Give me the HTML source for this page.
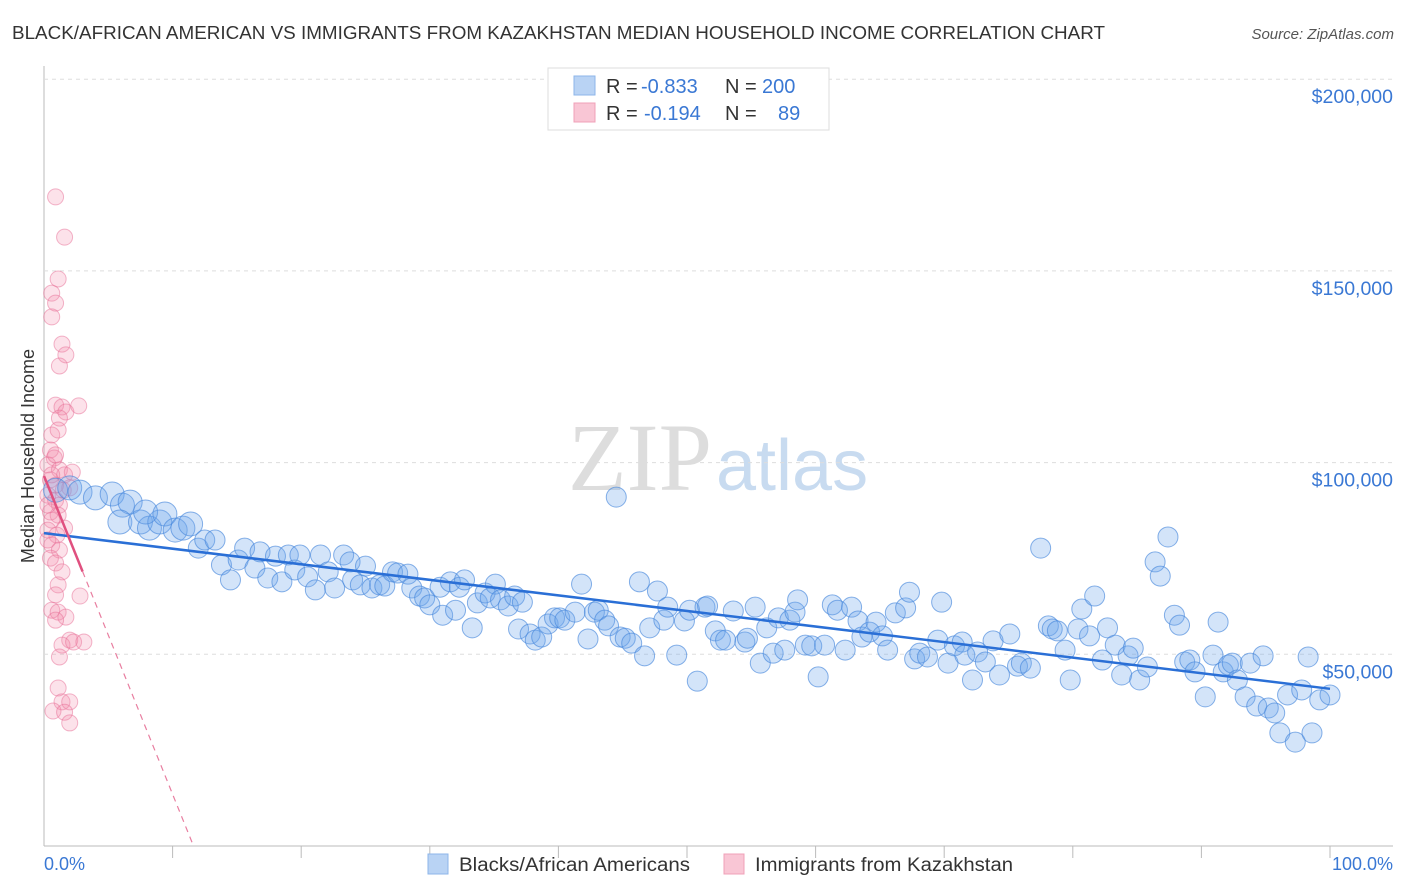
<!DOCTYPE html>
<html><head><meta charset="utf-8"><style>
body{margin:0;background:#fff;font-family:"Liberation Sans",sans-serif;}
svg{display:block}
</style></head><body>
<svg id="chart" width="1406" height="892" xmlns="http://www.w3.org/2000/svg">
<text x="12" y="39" font-size="18" fill="#333" textLength="1093" lengthAdjust="spacingAndGlyphs">BLACK/AFRICAN AMERICAN VS IMMIGRANTS FROM KAZAKHSTAN MEDIAN HOUSEHOLD INCOME CORRELATION CHART</text>
<text x="1394" y="39" font-size="15" fill="#555" font-style="italic" text-anchor="end">Source: ZipAtlas.com</text>
<text x="712" y="490" font-size="96" fill="#ddd" text-anchor="end" font-family="Liberation Serif,serif">ZIP</text>
<text x="716" y="490" font-size="72" fill="#c8dbf0">atlas</text>
<g id="grid"></g>
<g id="marks"></g>
<text x="34" y="456" font-size="18" fill="#333" text-anchor="middle" transform="rotate(-90 34 456)">Median Household Income</text>
<text x="44" y="870" font-size="18" fill="#3a78d4">0.0%</text>
<text x="1393" y="870" font-size="18" fill="#3a78d4" text-anchor="end">100.0%</text>
<g>
<rect x="548" y="68" width="281" height="62" fill="#fff" stroke="#ddd"/>
<rect x="574" y="76" width="21" height="19" fill="#b9d3f4" stroke="#8db6ea"/>
<rect x="574" y="103" width="21" height="19" fill="#f9c6d5" stroke="#f0a0b8"/>
<text x="606" y="93" font-size="20" fill="#333">R =</text>
<text x="641" y="93" font-size="20" fill="#3a78d4">-0.833</text>
<text x="725" y="93" font-size="20" fill="#333">N =</text>
<text x="762" y="93" font-size="20" fill="#3a78d4">200</text>
<text x="606" y="120" font-size="20" fill="#333">R =</text>
<text x="644" y="120" font-size="20" fill="#3a78d4">-0.194</text>
<text x="725" y="120" font-size="20" fill="#333">N =</text>
<text x="778" y="120" font-size="20" fill="#3a78d4">89</text>
</g>
<g>
<rect x="428" y="854" width="20" height="20" fill="#b9d3f4" stroke="#8db6ea"/>
<text x="459" y="871" font-size="19" fill="#333" textLength="231" lengthAdjust="spacingAndGlyphs">Blacks/African Americans</text>
<rect x="724" y="854" width="20" height="20" fill="#f9c6d5" stroke="#f0a0b8"/>
<text x="755" y="871" font-size="19" fill="#333" textLength="258" lengthAdjust="spacingAndGlyphs">Immigrants from Kazakhstan</text>
</g>
</svg>
<script>
const yTicks=[50000,100000,150000,200000];
const yTickLabels=["$50,000","$100,000","$150,000","$200,000"];
const blueX=[0.9,2.0,2.8,4.0,5.3,6.1,6.7,5.9,7.5,8.2,9.0,7.9,9.4,10.2,10.8,11.4,12.0,12.5,13.3,13.8,14.5,15.1,15.6,16.4,16.8,17.4,18.0,18.5,19.0,19.5,19.9,20.5,21.1,21.5,22.1,22.6,23.3,23.8,24.0,24.6,25.0,25.5,26.1,26.5,27.1,27.5,28.3,28.6,29.2,29.6,30.0,30.8,31.0,31.6,32.0,32.3,32.7,33.3,33.7,34.3,34.7,35.1,35.5,36.1,36.6,36.9,37.2,37.8,38.2,38.7,39.2,39.7,40.1,40.5,41.3,41.8,42.3,42.8,43.1,43.6,43.9,44.5,44.8,45.2,45.7,46.3,46.7,47.1,47.7,48.2,48.5,49.2,49.8,50.2,50.8,51.4,51.6,52.2,52.6,53.0,53.6,54.5,54.7,55.3,55.7,56.2,56.7,57.1,57.6,58.0,58.4,58.6,59.2,59.7,60.2,60.7,61.3,61.7,62.3,62.8,63.3,63.6,64.2,64.7,65.2,65.6,66.2,67.0,67.3,67.7,68.1,68.7,69.5,69.8,70.3,70.8,71.4,71.6,72.2,72.6,73.2,73.8,74.3,75.1,75.7,76.0,76.7,77.5,78.1,78.4,78.8,79.4,79.8,80.4,80.7,81.3,81.7,82.3,82.7,83.3,83.8,84.3,84.7,85.2,85.8,86.4,86.8,87.4,87.9,88.3,88.7,89.1,89.5,90.3,90.9,91.3,91.7,92.1,92.4,92.8,93.4,93.8,94.3,94.8,95.2,95.7,96.1,96.7,97.3,97.8,98.3,98.6,99.2,100.0];
const blueY=[92.8,93.4,92.3,90.8,91.8,88.9,89.7,84.5,84.5,82.9,84.5,87.1,86.6,82.4,82.9,84.0,77.7,79.8,79.8,73.3,69.4,74.6,77.7,72.5,76.7,69.9,75.6,68.9,75.9,72.0,75.9,70.2,66.8,75.9,71.5,67.3,75.9,74.1,69.4,68.1,73.0,67.3,68.1,67.8,71.5,71.2,70.9,67.3,65.2,64.7,62.9,67.5,60.2,68.9,61.5,67.5,69.4,56.9,63.4,66.0,64.7,68.3,64.2,62.6,65.2,56.6,63.6,55.3,53.7,54.5,57.9,59.5,59.5,58.9,61.0,68.3,54.0,61.0,61.5,58.9,57.4,91.0,54.5,54.2,52.9,68.9,49.6,56.9,66.5,58.9,62.3,49.8,58.7,61.5,43.0,62.3,62.6,56.1,53.7,53.7,61.3,53.2,54.2,62.3,47.7,56.9,50.3,59.5,51.1,58.9,61.0,64.2,52.4,52.2,44.1,52.4,62.9,61.5,51.1,62.3,58.7,54.5,55.8,58.4,54.8,51.1,60.8,62.1,66.2,48.8,50.3,49.3,53.7,63.6,47.7,52.2,53.2,49.8,43.3,50.6,48.0,53.5,44.6,55.3,46.9,47.7,46.4,77.7,57.4,56.6,56.1,51.1,43.3,56.6,61.8,54.8,65.2,48.5,56.9,52.4,44.6,49.6,51.6,43.3,46.7,74.1,70.4,80.6,60.2,57.6,48.0,48.5,45.4,38.9,49.8,58.4,45.4,47.2,47.7,43.3,38.9,47.7,36.5,49.6,36.0,34.7,29.5,39.4,27.1,40.7,49.3,29.5,38.1,39.4];
const pinkX=[0.9,1.6,1.1,0.6,0.9,0.6,1.4,1.7,1.2,0.9,1.4,1.7,1.2,2.7,0.6,1.1,0.5,0.8,0.3,1.2,1.6,2.2,0.5,0.9,1.5,2.0,0.3,0.9,1.2,0.5,1.1,0.6,1.6,0.3,1.0,0.6,1.2,0.5,0.9,1.4,1.1,0.9,2.8,0.6,1.1,1.7,0.9,2.0,1.4,2.3,3.1,1.2,1.1,1.4,2.0,0.7,1.6,2.0,0.3,0.6,0.3,0.9];
const pinkY=[169.3,158.8,147.9,144.2,141.6,138.0,130.9,128.1,125.2,115.0,114.5,113.2,111.6,114.8,107.2,108.5,103.3,101.2,99.4,98.1,96.8,97.5,95.5,94.1,92.8,93.4,91.5,90.2,88.9,87.1,86.3,85.0,82.9,82.4,81.1,78.5,77.2,75.1,73.8,71.5,68.1,65.5,65.2,61.5,61.0,59.7,58.9,53.7,52.4,53.2,53.2,49.3,41.2,37.6,37.6,35.2,34.9,32.1,79.8,96.8,88.9,102.0];
const blueTrend=[81.6,41.0];
const pinkTrend=[96.5,-8.3];
const NS='http://www.w3.org/2000/svg';
const xs=p=>44+p*12.86;
const ys=v=>846-v/50000*191.7;
const grid=document.getElementById('grid'),marks=document.getElementById('marks');
function mk(tag,attrs,parent){const e=document.createElementNS(NS,tag);for(const k in attrs)e.setAttribute(k,attrs[k]);parent.appendChild(e);return e;}
let ax=mk('line',{x1:44,y1:66,x2:44,y2:846,stroke:'#bbb'},grid);


let bx=mk('line',{x1:44,y1:846,x2:1393,y2:846,stroke:'#bbb'},grid);


for(let i=1;i<=10;i++){const t=mk('line',{x1:xs(i*10),y1:846,x2:xs(i*10),y2:858,stroke:'#bbb'},grid);

}
yTicks.forEach((v,i)=>{const l=mk('line',{x1:44,x2:1393,y1:ys(v),y2:ys(v),stroke:'#ddd','stroke-dasharray':'4,4'},grid);


const t=mk('text',{x:1393,y:ys(v)+24,'font-size':19.5,fill:'#3a78d4','text-anchor':'end'},grid);t.textContent=yTickLabels[i];

});
pinkX.forEach((x,i)=>{const c=mk('circle',{cx:xs(x),cy:ys(pinkY[i]*1000),r:8,fill:'rgba(244,140,170,0.25)',stroke:'rgba(232,110,150,0.5)','stroke-width':1},marks);

});
blueX.forEach((x,i)=>{const r=x<12?12:10;const c=mk('circle',{cx:xs(x),cy:ys(blueY[i]*1000),r:r,fill:'rgba(110,165,235,0.3)',stroke:'rgba(70,135,220,0.65)','stroke-width':1},marks);

});
const bl=mk('line',{x1:xs(0),y1:ys(blueTrend[0]*1000),x2:xs(100),y2:ys(blueTrend[1]*1000),stroke:'#2a6fd6','stroke-width':2.5},marks);


const pz=-pinkTrend[0]/pinkTrend[1];
const pd=mk('line',{x1:xs(3),y1:ys((pinkTrend[0]+pinkTrend[1]*3)*1000),x2:xs(pz),y2:ys(0),stroke:'#e87ea0','stroke-width':1.2,'stroke-dasharray':'6,5'},marks);


const ps=mk('line',{x1:xs(0),y1:ys(pinkTrend[0]*1000),x2:xs(3),y2:ys((pinkTrend[0]+pinkTrend[1]*3)*1000),stroke:'#e0507f','stroke-width':2.5},marks);


</script>
</body></html>
